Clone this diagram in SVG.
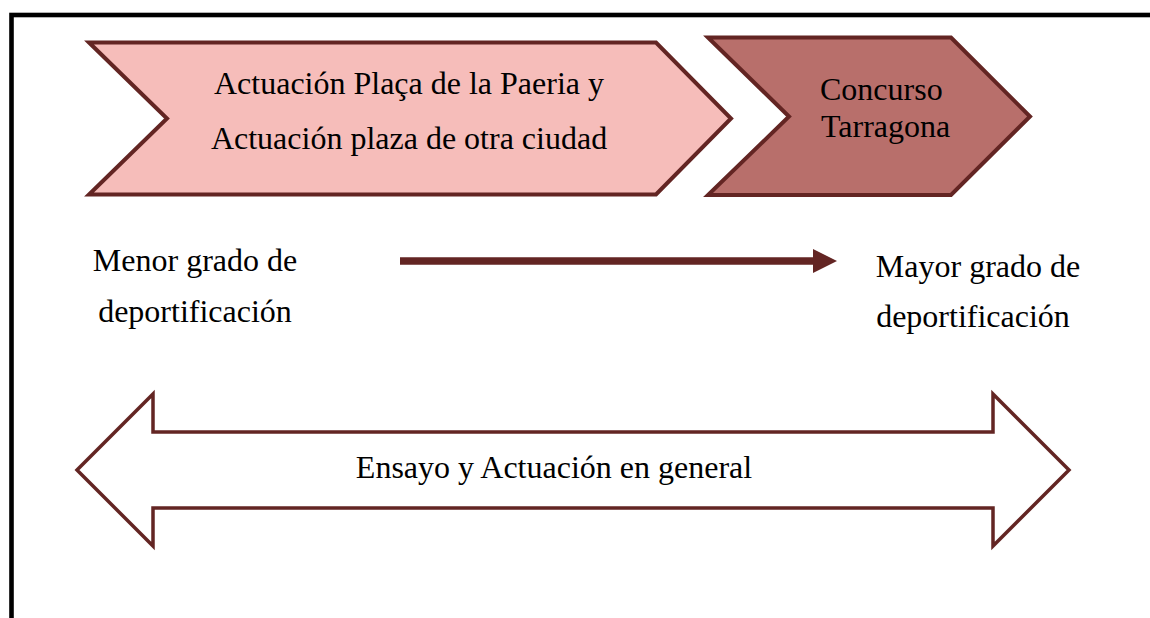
<svg xmlns="http://www.w3.org/2000/svg" width="1150" height="618" viewBox="0 0 1150 618">
<style>
.t{font-family:"Liberation Serif","Times New Roman",serif;font-size:32px;fill:#000}
.c{text-anchor:middle}
.sh{stroke:#632523;stroke-width:4;stroke-linejoin:miter}
</style>
<rect width="1150" height="618" fill="#fff"/>
<rect x="11.5" y="15" width="1200" height="700" fill="none" stroke="#000" stroke-width="4.6"/>
<g id="chevron1">
<polygon class="sh" fill="#f6bdba" points="89,42.5 167,118.5 89,194.5 656,194.5 731,118.5 656,42.5"/>
<text class="t c" x="409" y="93.5">Actuación Plaça de la Paeria y</text>
<text class="t c" x="409" y="148.5">Actuación plaza de otra ciudad</text>
</g>
<g id="chevron2">
<polygon class="sh" fill="#b86f6b" points="708,37.5 789,116.5 708,195 951,195 1030,116.5 951,37.5"/>
<text class="t" x="820" y="100">Concurso</text>
<text class="t" x="821" y="137">Tarragona</text>
</g>
<g id="menor">
<text class="t c" x="195" y="271">Menor grado de</text>
<text class="t c" x="195" y="322">deportificación</text>
</g>
<g id="mayor">
<text class="t c" x="978" y="277">Mayor grado de</text>
<text class="t c" x="973" y="327">deportificación</text>
</g>
<g id="connectors">
<line x1="400" y1="261" x2="814" y2="261" stroke="#632523" stroke-width="7.5"/>
<polygon fill="#632523" points="813,249 837,261 813,273"/>
</g>
<g id="double-arrow">
<polygon fill="#fff" stroke="#632523" stroke-width="3.5" stroke-linejoin="miter" points="77,470 153,394 153,432 993,432 993,394 1069,470 993,546 993,508 153,508 153,546"/>
<text class="t c" x="554" y="478">Ensayo y Actuación en general</text>
</g>
</svg>
